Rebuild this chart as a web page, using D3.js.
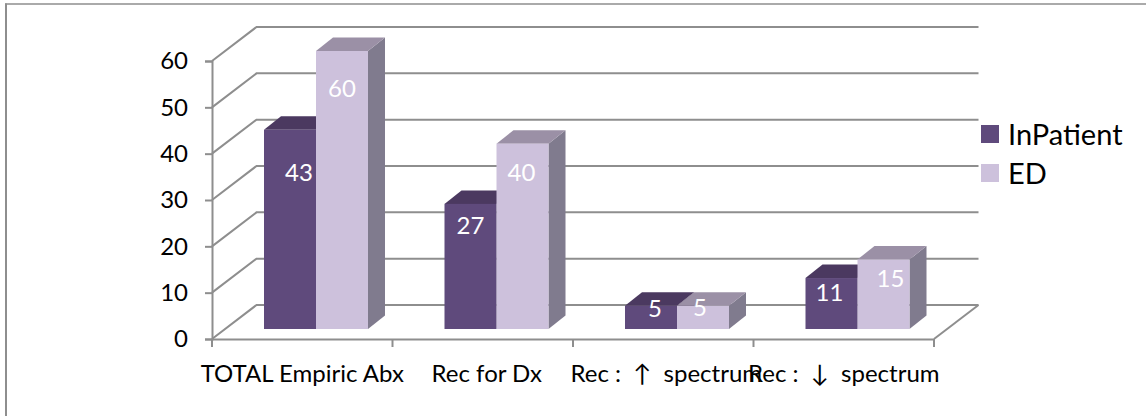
<!DOCTYPE html>
<html>
<head>
<meta charset="utf-8">
<script src="https://cdn.jsdelivr.net/npm/d3@7/dist/d3.min.js"></script>
<style>
  html, body { margin: 0; padding: 0; background: #fff; }
  svg { display: block; }
  text { font-family: Lato, "Open Sans", sans-serif; white-space: pre; }
</style>
</head>
<body>
<svg id="chart" width="1146" height="416"></svg>
<script>
const categories = ["TOTAL Empiric Abx", "Rec for Dx", "Rec :  ↑  spectrum", "Rec :  ↓  spectrum"];
const inPatient = [43, 27, 5, 11];
const ed = [60, 40, 5, 15];
const seriesNames = ["InPatient", "ED"];
const yTicks = [0, 10, 20, 30, 40, 50, 60];

// Offset of each value label from its bar's top centre, per series
const inPatientLabelDrop = [42, 21, 2, 13];
const edLabelDrop = [36, 28, 1, 18];
const inPatientLabelShift = [9, 0, 4, -2];
const edLabelShift = [0, -1, -3, 7];
// Horizontal nudge of each category label
const categoryLabelShift = [0, 4, 3, 0];

const svg = d3.select("#chart");

// Chart frame: only the top and left edges fall inside the page
const axisColor = "#8e8e8e";
svg.append("line").attr("x1", 5).attr("x2", 1146).attr("y1", 4).attr("y2", 4)
  .attr("stroke", axisColor).attr("stroke-width", 1.5);
svg.append("line").attr("x1", 6).attr("x2", 6).attr("y1", 3.5).attr("y2", 416)
  .attr("stroke", axisColor).attr("stroke-width", 2);

// Projection of the 3D box
const wall = { dx: 44.5, dy: -34 };
const barDepth = { dx: 17, dy: -13.5 };
const barLift = 10;

const x = d3.scaleBand().domain(categories).range([212, 934]).paddingInner(0).paddingOuter(0);
const y = d3.scaleLinear().domain([0, 60]).range([339, 61]);

const grid = svg.append("g").attr("fill", "none").attr("stroke", axisColor).attr("stroke-width", 2);

// Wall gridlines and side-wall diagonals
yTicks.forEach(t => {
  const p = d3.path();
  p.moveTo(x.range()[0], y(t));
  p.lineTo(x.range()[0] + wall.dx, y(t) + wall.dy);
  p.lineTo(x.range()[1] + wall.dx, y(t) + wall.dy);
  grid.append("path").attr("d", p.toString());
});

// Floor's right edge
grid.append("line")
  .attr("x1", x.range()[1]).attr("y1", y(0))
  .attr("x2", x.range()[1] + wall.dx).attr("y2", y(0) + wall.dy);

// Y axis
const yAxis = d3.axisLeft(y).tickValues(yTicks).tickSize(7).tickPadding(17);
const yG = svg.append("g").attr("transform", "translate(212,0)").call(yAxis);
yG.select(".domain").attr("stroke", axisColor).attr("stroke-width", 2);
yG.selectAll(".tick line").attr("stroke", axisColor).attr("stroke-width", 2);
yG.selectAll(".tick text").attr("fill", "#000").style("font-size", "24px").style("font-family", "Lato, sans-serif");

// X axis with ticks at the category boundaries
const xAxis = d3.axisBottom(x).tickSize(0).tickPadding(26);
const xG = svg.append("g").attr("transform", `translate(0,${y(0)})`).call(xAxis);
xG.select(".domain").attr("stroke", axisColor).attr("stroke-width", 2);
xG.selectAll(".tick text").attr("fill", "#000").style("font-size", "24px").style("font-family", "Lato, sans-serif")
  .attr("dx", (d, i) => categoryLabelShift[i]);
d3.range(categories.length + 1).forEach(i => {
  const tx = x.range()[0] + i * x.bandwidth();
  xG.append("line").attr("x1", tx).attr("x2", tx).attr("y1", 0).attr("y2", 8)
    .attr("stroke", axisColor).attr("stroke-width", 2);
});

// Bars
const series = [
  { name: seriesNames[0], values: inPatient, drop: inPatientLabelDrop, shift: inPatientLabelShift, front: "#5f4a7c", top: "#4b3960", side: "#443655" },
  { name: seriesNames[1], values: ed, drop: edLabelDrop, shift: edLabelShift, front: "#cdc1dc", top: "#9b90a6", side: "#807b8e" }
];
const barW = 52;
const barOffset = 52;
const barsG = svg.append("g");
const face = pts => d3.line()(pts) + "Z";

categories.forEach((c, ci) => {
  series.forEach((s, si) => {
    const x0 = x(c) + barOffset + si * barW;
    const x1 = x0 + barW;
    const y0 = y(0) - barLift;
    const y1 = y(s.values[ci]) - barLift;
    const g = barsG.append("g");
    g.append("path").attr("fill", s.side).attr("d", face([[x1, y0], [x1 + barDepth.dx, y0 + barDepth.dy], [x1 + barDepth.dx, y1 + barDepth.dy], [x1, y1]]));
    g.append("path").attr("fill", s.top).attr("d", face([[x0, y1], [x0 + barDepth.dx, y1 + barDepth.dy], [x1 + barDepth.dx, y1 + barDepth.dy], [x1, y1]]));
    g.append("rect").attr("fill", s.front).attr("x", x0).attr("y", y1).attr("width", barW).attr("height", y0 - y1);
  });
});

// Value labels sit above all bars
categories.forEach((c, ci) => {
  series.forEach((s, si) => {
    const cx = x(c) + barOffset + si * barW + barW / 2 + s.shift[ci];
    const top = y(s.values[ci]) - barLift;
    svg.append("text").attr("x", cx).attr("y", top + s.drop[ci])
      .attr("text-anchor", "middle").attr("dominant-baseline", "central")
      .attr("fill", "#fff").style("font-size", "24px").text(s.values[ci]);
  });
});

// Legend
const legend = svg.append("g");
series.forEach((s, i) => {
  const ly = 125 + i * 39;
  legend.append("rect").attr("x", 981).attr("y", ly).attr("width", 18).attr("height", 18).attr("fill", s.front);
  legend.append("text").attr("x", 1008).attr("y", ly + 8).attr("dominant-baseline", "central")
    .attr("fill", "#000").style("font-size", "29px").text(s.name);
});
</script>
</body>
</html>
